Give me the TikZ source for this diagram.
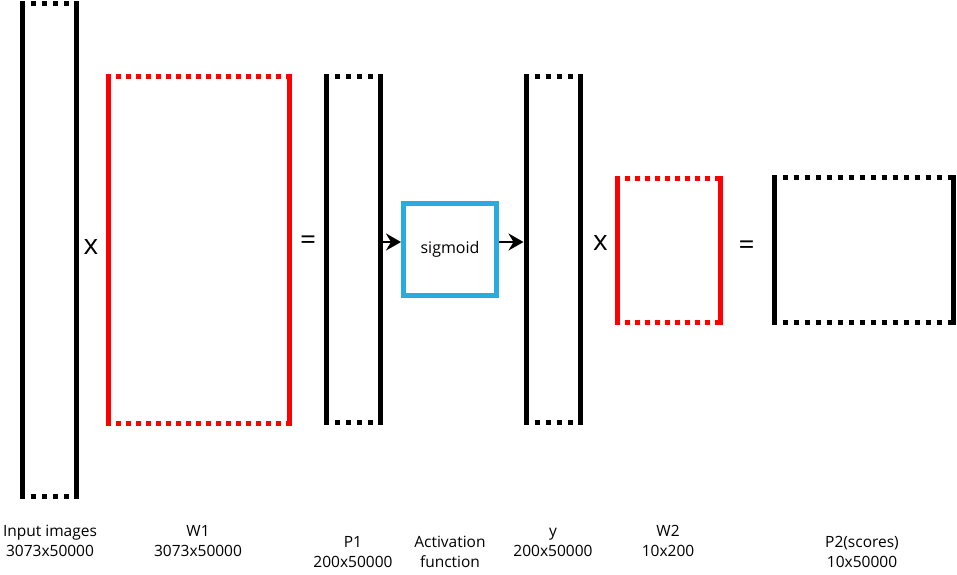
\documentclass[tikz,border=0pt]{standalone}
\usepackage{fontspec}
\setmainfont{Open Sans}
\usetikzlibrary{arrows.meta}

\definecolor{sigblue}{RGB}{41,171,226}

% the two solid sides and the dotted top and bottom of one matrix
\newcommand\drawmat[3]{%
  \draw[#2, line width=5pt, line cap=rect] (#1.north west) -- (#1.south west)
    (#1.north east) -- (#1.south east);
  \draw[#2, line width=5pt, dash pattern=on 5pt off #3, dash phase=2.5pt]
    (#1.north west) -- (#1.north east) (#1.south west) -- (#1.south east);
}

\begin{document}
\begin{tikzpicture}[x=1pt,y=-1pt,
  mat/.style 2 args={inner sep=0pt, outer sep=0pt, minimum width=#1, minimum height=#2},
  lbl/.style={font=\fontsize{15.5}{20}\selectfont, align=center, inner sep=0pt},
  op/.style={font=\fontsize{28}{28}\selectfont, inner sep=0pt},
  arr/.style={line width=2pt, -{Stealth[length=15pt, width=17pt, inset=5pt]}}]
\useasboundingbox (0,0) rectangle (957,574);

% matrices
\node[mat={54pt}{492.5pt}] (inp) at (49.5,249.75) {};
\node[mat={180.5pt}{347pt}] (W1) at (198.75,250) {};
\node[mat={53.5pt}{346pt}] (P1) at (353.25,249.5) {};
\node[mat={54pt}{346pt}] (Y) at (553,249.5) {};
\node[mat={103pt}{144pt}] (W2) at (668.5,250) {};
\node[mat={179.5pt}{145pt}] (P2) at (863.75,249.5) {};

\drawmat{inp}{black}{6pt}
\drawmat{W1}{red}{5pt}
\drawmat{P1}{black}{6pt}
\drawmat{Y}{black}{6pt}
\drawmat{W2}{red}{5pt}
\drawmat{P2}{black}{6pt}

% activation
\node[draw=sigblue, line width=5pt, minimum width=93pt, minimum height=92pt, inner sep=0pt,
  font=\fontsize{16}{18}\selectfont] (sig) at (450,249.5) {sigmoid};
\draw[arr] ([yshift=7.5pt]P1.east) -- ([yshift=7.5pt]sig.west);
\draw[arr, shorten >=2.5pt] ([yshift=7.5pt]sig.east) -- ([yshift=7.5pt]Y.west);

% operators
\node[op] (x1) at (91,247) {x};
\node[op] (eq1) at (308,243) {=};
\node[op] (x2) at (600.5,242.5) {x};
\node[op] (eq2) at (746.5,248) {=};

% labels
\node[lbl] (linp) at (50,542) {\strut Input images\\\strut 3073x50000};
\node[lbl] (lW1) at (198,542) {\strut W1\\\strut 3073x50000};
\node[lbl] (lP1) at (353,553) {\strut P1\\\strut 200x50000};
\node[lbl] (lsig) at (450,553) {\strut Activation\\\strut function};
\node[lbl] (lY) at (553,542) {\strut y\\\strut 200x50000};
\node[lbl] (lW2) at (668,542) {\strut W2\\\strut 10x200};
\node[lbl] (lP2) at (862,553) {\strut P2(scores)\\\strut 10x50000};
\end{tikzpicture}
\end{document}
